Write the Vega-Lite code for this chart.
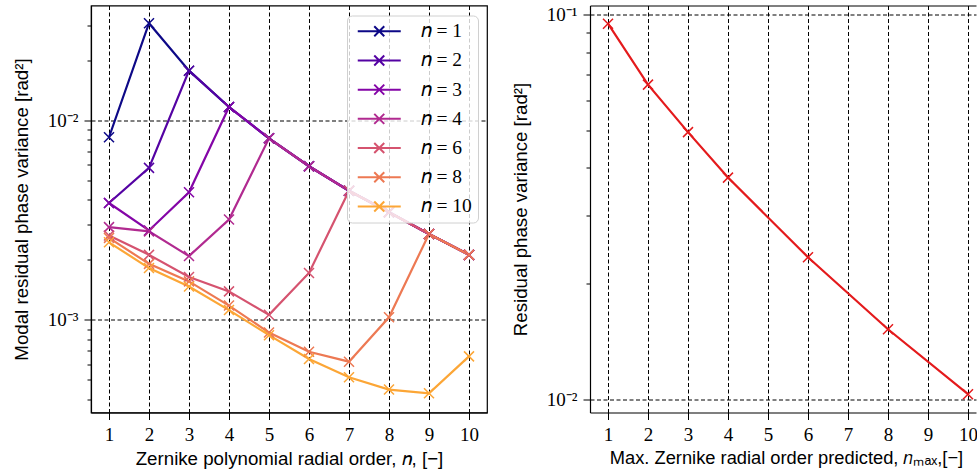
{
  "$schema": "https://vega.github.io/schema/vega-lite/v6.json",
  "autosize": {"type": "pad"},
  "padding": {"left": 11, "top": 4.5, "right": 0, "bottom": 0},
  "background": "#ffffff",
  "spacing": 103,
  "bounds": "flush",
  "config": {
    "view": {"stroke": "#000000", "strokeWidth": 1.2},
    "axis": {
      "labelFont": "Liberation Serif", "labelFontSize": 19, "labelColor": "#000000",
      "titleFont": "Liberation Sans", "titleFontSize": 18.7, "titleFontWeight": "normal", "titleColor": "#000000",
      "tickColor": "#000000", "tickWidth": 1, "tickSize": 7,
      "gridColor": "#000000", "gridDash": [4, 2.5], "gridWidth": 1, "gridOpacity": 1,
      "domainColor": "#000000", "domainWidth": 1.2,
      "labelPadding": 6, "labelOverlap": false, "labelFlush": false, "labelBound": false
    },
    "axisX": {"titlePadding": 5},
    "axisY": {"titlePadding": 16}
  },
  "hconcat": [
    {
      "width": 396,
      "height": 407,
      "data": {"values": [
        {"s": "𝑛 = 1", "k": 1, "v": 0.00825}, {"s": "𝑛 = 1", "k": 2, "v": 0.0308}, {"s": "𝑛 = 1", "k": 3, "v": 0.0178}, {"s": "𝑛 = 1", "k": 4, "v": 0.0117}, {"s": "𝑛 = 1", "k": 5, "v": 0.00815}, {"s": "𝑛 = 1", "k": 6, "v": 0.0059}, {"s": "𝑛 = 1", "k": 7, "v": 0.00445}, {"s": "𝑛 = 1", "k": 8, "v": 0.00347}, {"s": "𝑛 = 1", "k": 9, "v": 0.0027}, {"s": "𝑛 = 1", "k": 10, "v": 0.00212},
        {"s": "𝑛 = 2", "k": 1, "v": 0.00386}, {"s": "𝑛 = 2", "k": 2, "v": 0.00579}, {"s": "𝑛 = 2", "k": 3, "v": 0.0178}, {"s": "𝑛 = 2", "k": 4, "v": 0.0117}, {"s": "𝑛 = 2", "k": 5, "v": 0.00815}, {"s": "𝑛 = 2", "k": 6, "v": 0.0059}, {"s": "𝑛 = 2", "k": 7, "v": 0.00445}, {"s": "𝑛 = 2", "k": 8, "v": 0.00347}, {"s": "𝑛 = 2", "k": 9, "v": 0.0027}, {"s": "𝑛 = 2", "k": 10, "v": 0.00212},
        {"s": "𝑛 = 3", "k": 1, "v": 0.00386}, {"s": "𝑛 = 3", "k": 2, "v": 0.00281}, {"s": "𝑛 = 3", "k": 3, "v": 0.00437}, {"s": "𝑛 = 3", "k": 4, "v": 0.0117}, {"s": "𝑛 = 3", "k": 5, "v": 0.00815}, {"s": "𝑛 = 3", "k": 6, "v": 0.0059}, {"s": "𝑛 = 3", "k": 7, "v": 0.00445}, {"s": "𝑛 = 3", "k": 8, "v": 0.00347}, {"s": "𝑛 = 3", "k": 9, "v": 0.0027}, {"s": "𝑛 = 3", "k": 10, "v": 0.00212},
        {"s": "𝑛 = 4", "k": 1, "v": 0.00292}, {"s": "𝑛 = 4", "k": 2, "v": 0.00278}, {"s": "𝑛 = 4", "k": 3, "v": 0.00209}, {"s": "𝑛 = 4", "k": 4, "v": 0.00319}, {"s": "𝑛 = 4", "k": 5, "v": 0.00815}, {"s": "𝑛 = 4", "k": 6, "v": 0.0059}, {"s": "𝑛 = 4", "k": 7, "v": 0.00445}, {"s": "𝑛 = 4", "k": 8, "v": 0.00347}, {"s": "𝑛 = 4", "k": 9, "v": 0.0027}, {"s": "𝑛 = 4", "k": 10, "v": 0.00212},
        {"s": "𝑛 = 6", "k": 1, "v": 0.00265}, {"s": "𝑛 = 6", "k": 2, "v": 0.00212}, {"s": "𝑛 = 6", "k": 3, "v": 0.00164}, {"s": "𝑛 = 6", "k": 4, "v": 0.00139}, {"s": "𝑛 = 6", "k": 5, "v": 0.00106}, {"s": "𝑛 = 6", "k": 6, "v": 0.00172}, {"s": "𝑛 = 6", "k": 7, "v": 0.00445}, {"s": "𝑛 = 6", "k": 8, "v": 0.00347}, {"s": "𝑛 = 6", "k": 9, "v": 0.0027}, {"s": "𝑛 = 6", "k": 10, "v": 0.00212},
        {"s": "𝑛 = 8", "k": 1, "v": 0.00258}, {"s": "𝑛 = 8", "k": 2, "v": 0.00191}, {"s": "𝑛 = 8", "k": 3, "v": 0.00156}, {"s": "𝑛 = 8", "k": 4, "v": 0.00118}, {"s": "𝑛 = 8", "k": 5, "v": 0.000864}, {"s": "𝑛 = 8", "k": 6, "v": 0.000692}, {"s": "𝑛 = 8", "k": 7, "v": 0.000617}, {"s": "𝑛 = 8", "k": 8, "v": 0.00103}, {"s": "𝑛 = 8", "k": 9, "v": 0.0027}, {"s": "𝑛 = 8", "k": 10, "v": 0.00212},
        {"s": "𝑛 = 10", "k": 1, "v": 0.00245}, {"s": "𝑛 = 10", "k": 2, "v": 0.00182}, {"s": "𝑛 = 10", "k": 3, "v": 0.00147}, {"s": "𝑛 = 10", "k": 4, "v": 0.00112}, {"s": "𝑛 = 10", "k": 5, "v": 0.000838}, {"s": "𝑛 = 10", "k": 6, "v": 0.000637}, {"s": "𝑛 = 10", "k": 7, "v": 0.000515}, {"s": "𝑛 = 10", "k": 8, "v": 0.000447}, {"s": "𝑛 = 10", "k": 9, "v": 0.000428}, {"s": "𝑛 = 10", "k": 10, "v": 0.000656}
      ]},
      "encoding": {
        "x": {
          "field": "k", "type": "quantitative",
          "scale": {"domain": [0.55, 10.45], "nice": false, "zero": false},
          "axis": {"values": [1, 2, 3, 4, 5, 6, 7, 8, 9, 10], "format": "d", "title": "Zernike polynomial radial order, 𝑛, [−]"}
        },
        "y": {
          "field": "v", "type": "quantitative",
          "scale": {"type": "log", "domain": [0.000343, 0.0378], "nice": false},
          "axis": {
            "values": [0.0004, 0.0005, 0.0006, 0.0007, 0.0008, 0.0009, 0.001, 0.002, 0.003, 0.004, 0.005, 0.006, 0.007, 0.008, 0.009, 0.01, 0.02, 0.03],
            "labelExpr": "datum.value == 0.01 ? '10⁻²' : datum.value == 0.001 ? '10⁻³' : ''",
            "tickSize": {"condition": {"test": "datum.value == 0.01 || datum.value == 0.001", "value": 7}, "value": 4},
            "gridOpacity": {"condition": {"test": "datum.value == 0.01 || datum.value == 0.001", "value": 1}, "value": 0},
            "title": "Modal residual phase variance [rad²]"
          }
        },
        "color": {
          "field": "s", "type": "nominal",
          "scale": {
            "domain": ["𝑛 = 1", "𝑛 = 2", "𝑛 = 3", "𝑛 = 4", "𝑛 = 6", "𝑛 = 8", "𝑛 = 10"],
            "range": ["#0d0887", "#5402a3", "#8405a7", "#b12a90", "#d5536f", "#ed7953", "#fca636"]
          },
          "legend": {
            "orient": "none", "legendX": 256, "legendY": 10, "title": null,
            "symbolType": "M-1,0H7.6M2.3,-1L4.3,1M2.3,1L4.3,-1",
            "symbolSize": 100, "symbolStrokeWidth": 2,
            "labelFont": "Liberation Serif", "labelFontSize": 19.5, "labelOffset": 48, "labelColor": "#000000", "labelLimit": 0,
            "fillColor": "rgba(255,255,255,0.8)", "strokeColor": "#d0d0d0", "cornerRadius": 5,
            "padding": 6, "rowPadding": 8.2
          }
        }
      },
      "layer": [
        {"mark": {"type": "line", "strokeWidth": 2.2}},
        {"mark": {"type": "point", "shape": "M-1,-1L1,1M-1,1L1,-1", "filled": false, "size": 100, "strokeWidth": 1.5, "opacity": 1}}
      ]
    },
    {
      "width": 386,
      "height": 407,
      "view": {"stroke": null},
      "data": {"values": [
        {"nmax": 1, "v": 0.0948}, {"nmax": 2, "v": 0.0658}, {"nmax": 3, "v": 0.0495}, {"nmax": 4, "v": 0.0377},
        {"nmax": 6, "v": 0.0234}, {"nmax": 8, "v": 0.0152}, {"nmax": 10, "v": 0.0103}
      ]},
      "layer": [
        {
          "mark": {"type": "line", "color": "#e41a1c", "strokeWidth": 2.2},
          "encoding": {
            "x": {
              "field": "nmax", "type": "quantitative",
              "scale": {"domain": [0.55, 10.2], "nice": false, "zero": false},
              "axis": {"values": [1, 2, 3, 4, 5, 6, 7, 8, 9, 10], "format": "d", "title": "Max. Zernike radial order predicted, 𝑛ₘₐₓ,[−]", "titleX": 196, "titleFontSize": 18.3, "domain": true}
            },
            "y": {
              "field": "v", "type": "quantitative",
              "scale": {"type": "log", "domain": [0.00923, 0.1057], "nice": false},
              "axis": {
                "values": [0.01, 0.02, 0.03, 0.04, 0.05, 0.06, 0.07, 0.08, 0.09, 0.1],
                "labelExpr": "datum.value == 0.1 ? '10⁻¹' : datum.value == 0.01 ? '10⁻²' : ''",
                "tickSize": {"condition": {"test": "datum.value == 0.1 || datum.value == 0.01", "value": 7}, "value": 4},
                "gridOpacity": {"condition": {"test": "datum.value == 0.1 || datum.value == 0.01", "value": 1}, "value": 0},
                "title": "Residual phase variance [rad²]",
                "domain": true
              }
            }
          }
        },
        {
          "mark": {"type": "point", "shape": "M-1,-1L1,1M-1,1L1,-1", "filled": false, "color": "#e41a1c", "size": 100, "strokeWidth": 1.5, "opacity": 1},
          "encoding": {
            "x": {
              "field": "nmax", "type": "quantitative",
              "scale": {"domain": [0.55, 10.2], "nice": false, "zero": false},
              "axis": {"orient": "top", "labels": false, "ticks": false, "grid": false, "domain": true, "title": null}
            },
            "y": {"field": "v", "type": "quantitative"}
          }
        }
      ],
      "resolve": {"axis": {"x": "independent"}}
    }
  ]
}
